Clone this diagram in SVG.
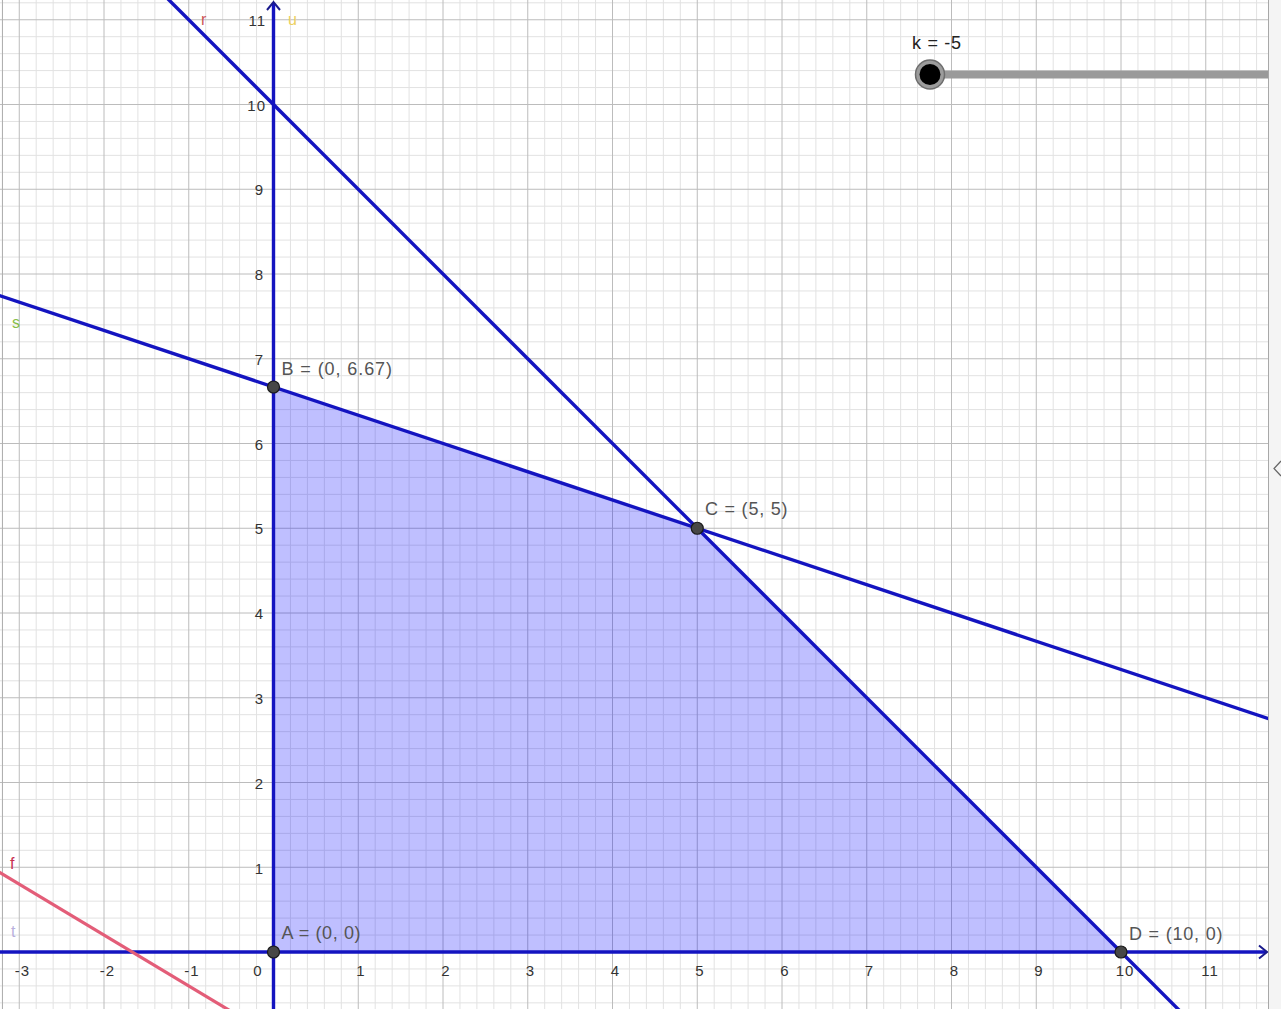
<svg xmlns="http://www.w3.org/2000/svg" width="1281" height="1009" viewBox="0 0 1281 1009">
<style>
.minor{stroke:#e2e2e2;stroke-width:1;fill:none}
.major{stroke:#bcbcbc;stroke-width:1;fill:none}
.ln{stroke:#1414c0;stroke-width:3.4;fill:none;stroke-linecap:butt}
.pt{fill:#474747;stroke:#1a1a1a;stroke-width:1.2}
.plab{font-family:"Liberation Sans",Arial,sans-serif;font-size:18px;fill:#555}
.ax{font-family:"Liberation Sans",Arial,sans-serif;font-size:15px;fill:#333;letter-spacing:1px}
.axx{text-anchor:middle}
.axy{text-anchor:end}
.llab{font-family:"Liberation Sans",Arial,sans-serif;font-size:16px}
</style>
<defs>
<clipPath id="plot"><rect x="0" y="0" width="1268" height="1009"/></clipPath>
</defs>
<rect x="0" y="0" width="1281" height="1009" fill="#ffffff"/>
<g id="grid" clip-path="url(#plot)">
<path class="minor" d="M2.3,0V1009M36.2,0V1009M53.15,0V1009M70.1,0V1009M87.05,0V1009M120.95,0V1009M137.9,0V1009M154.85,0V1009M171.8,0V1009M205.7,0V1009M222.65,0V1009M239.6,0V1009M256.55,0V1009M290.45,0V1009M307.4,0V1009M324.35,0V1009M341.3,0V1009M375.2,0V1009M392.15,0V1009M409.1,0V1009M426.05,0V1009M459.95,0V1009M476.9,0V1009M493.85,0V1009M510.8,0V1009M544.7,0V1009M561.65,0V1009M578.6,0V1009M595.55,0V1009M629.45,0V1009M646.4,0V1009M663.35,0V1009M680.3,0V1009M714.2,0V1009M731.15,0V1009M748.1,0V1009M765.05,0V1009M798.95,0V1009M815.9,0V1009M832.85,0V1009M849.8,0V1009M883.7,0V1009M900.65,0V1009M917.6,0V1009M934.55,0V1009M968.45,0V1009M985.4,0V1009M1002.35,0V1009M1019.3,0V1009M1053.2,0V1009M1070.15,0V1009M1087.1,0V1009M1104.05,0V1009M1137.95,0V1009M1154.9,0V1009M1171.85,0V1009M1188.8,0V1009M1222.7,0V1009M1239.65,0V1009M1256.6,0V1009"/>
<path class="minor" d="M0,1002.85H1268M0,985.9H1268M0,968.95H1268M0,935.05H1268M0,918.1H1268M0,901.15H1268M0,884.2H1268M0,850.3H1268M0,833.35H1268M0,816.4H1268M0,799.45H1268M0,765.55H1268M0,748.6H1268M0,731.65H1268M0,714.7H1268M0,680.8H1268M0,663.85H1268M0,646.9H1268M0,629.95H1268M0,596.05H1268M0,579.1H1268M0,562.15H1268M0,545.2H1268M0,511.3H1268M0,494.35H1268M0,477.4H1268M0,460.45H1268M0,426.55H1268M0,409.6H1268M0,392.65H1268M0,375.7H1268M0,341.8H1268M0,324.85H1268M0,307.9H1268M0,290.95H1268M0,257.05H1268M0,240.1H1268M0,223.15H1268M0,206.2H1268M0,172.3H1268M0,155.35H1268M0,138.4H1268M0,121.45H1268M0,87.55H1268M0,70.6H1268M0,53.65H1268M0,36.7H1268M0,2.8H1268"/>
<path class="major" d="M19.25,0V1009M104,0V1009M188.75,0V1009M273.5,0V1009M358.25,0V1009M443,0V1009M527.75,0V1009M612.5,0V1009M697.25,0V1009M782,0V1009M866.75,0V1009M951.5,0V1009M1036.25,0V1009M1121,0V1009M1205.75,0V1009"/>
<path class="major" d="M0,952H1268M0,867.25H1268M0,782.5H1268M0,697.75H1268M0,613H1268M0,528.25H1268M0,443.5H1268M0,358.75H1268M0,274H1268M0,189.25H1268M0,104.5H1268M0,19.75H1268"/>
<line x1="2.5" y1="0" x2="2.5" y2="1009" stroke="#b0b0b0" stroke-width="1"/>
</g>
<g id="region">
<polygon points="273.5,952 273.5,387 697.25,528.25 1121,952" fill="#0000ff" fill-opacity="0.25"/>
</g>
<g id="axis-labels">
<text class="ax axx" x="22.5" y="976">-3</text>
<text class="ax axx" x="107.5" y="976">-2</text>
<text class="ax axx" x="192" y="976">-1</text>
<text class="ax axx" x="258" y="976">0</text>
<text class="ax axx" x="361" y="976">1</text>
<text class="ax axx" x="446" y="976">2</text>
<text class="ax axx" x="530.5" y="976">3</text>
<text class="ax axx" x="615.5" y="976">4</text>
<text class="ax axx" x="700" y="976">5</text>
<text class="ax axx" x="785" y="976">6</text>
<text class="ax axx" x="869.5" y="976">7</text>
<text class="ax axx" x="954.5" y="976">8</text>
<text class="ax axx" x="1039" y="976">9</text>
<text class="ax axx" x="1125" y="976">10</text>
<text class="ax axx" x="1210" y="976">11</text>
<text class="ax axy" x="264" y="873.5">1</text>
<text class="ax axy" x="264" y="788.5">2</text>
<text class="ax axy" x="264" y="703.5">3</text>
<text class="ax axy" x="264" y="619">4</text>
<text class="ax axy" x="264" y="534">5</text>
<text class="ax axy" x="264" y="449.5">6</text>
<text class="ax axy" x="264" y="364.5">7</text>
<text class="ax axy" x="264" y="280">8</text>
<text class="ax axy" x="264" y="195">9</text>
<text class="ax axy" x="266" y="110.5">10</text>
<text class="ax axy" x="266" y="25.5">11</text>
</g>
<g id="connectors" clip-path="url(#plot)">
<line id="t" class="ln" x1="0" y1="952" x2="1266" y2="952"/>
<line id="u" class="ln" x1="273.5" y1="1009" x2="273.5" y2="3"/>
<line id="r" class="ln" x1="164" y1="-5" x2="1183" y2="1014"/>
<line id="s" class="ln" x1="-3" y1="294.8" x2="1271" y2="719.5"/>
<line id="f" x1="-4" y1="870.3" x2="231" y2="1011.3" stroke="#e35d78" stroke-width="3.2"/>
<path d="M1259,945.5L1267,952L1259,958.5" fill="none" stroke="#1a1a8c" stroke-width="2"/>
<path d="M267,10L273.5,2L280,10" fill="none" stroke="#1a1a8c" stroke-width="2"/>
</g>
<g id="line-labels" class="llab">
<text x="201" y="25" fill="#cc5555">r</text>
<text x="288" y="25" fill="#ecd060">u</text>
<text x="12" y="328" fill="#86bd48">s</text>
<text x="10" y="869" fill="#c83050">f</text>
<text x="11" y="937" fill="#b8b0de">t</text>
</g>
<g id="A">
<circle class="pt" cx="273.5" cy="952" r="6"/>
<text class="plab" x="281.5" y="939" textLength="79" lengthAdjust="spacing">A = (0, 0)</text>
</g>
<g id="B">
<circle class="pt" cx="273.5" cy="387" r="6"/>
<text class="plab" x="281.5" y="375" textLength="110.5" lengthAdjust="spacing">B = (0, 6.67)</text>
</g>
<g id="C">
<circle class="pt" cx="697.25" cy="528.25" r="6"/>
<text class="plab" x="705" y="515" textLength="82.5" lengthAdjust="spacing">C = (5, 5)</text>
</g>
<g id="D">
<circle class="pt" cx="1121" cy="952" r="6"/>
<text class="plab" x="1129" y="940" textLength="93.5" lengthAdjust="spacing">D = (10, 0)</text>
</g>
<g id="slider">
<line x1="930" y1="74.5" x2="1268" y2="74.5" stroke="#9a9a9a" stroke-width="8"/>
<circle cx="930" cy="74.5" r="14.5" fill="#9c9c9c" stroke="#6e6e6e" stroke-width="1.5"/>
<circle cx="930" cy="74.5" r="10.5" fill="#000000"/>
<text x="912" y="48.5" font-family="Liberation Sans, Arial, sans-serif" font-size="18" fill="#222" textLength="49" lengthAdjust="spacing">k = -5</text>
</g>
<g id="panel">
<rect x="1268" y="0" width="13" height="1009" fill="#f4f4f4"/>
<line x1="1268.5" y1="0" x2="1268.5" y2="1009" stroke="#a8a8a8" stroke-width="1"/>
<path d="M1281,461L1274,468.5L1281,476" fill="none" stroke="#666" stroke-width="1.2"/>
</g>
</svg>
